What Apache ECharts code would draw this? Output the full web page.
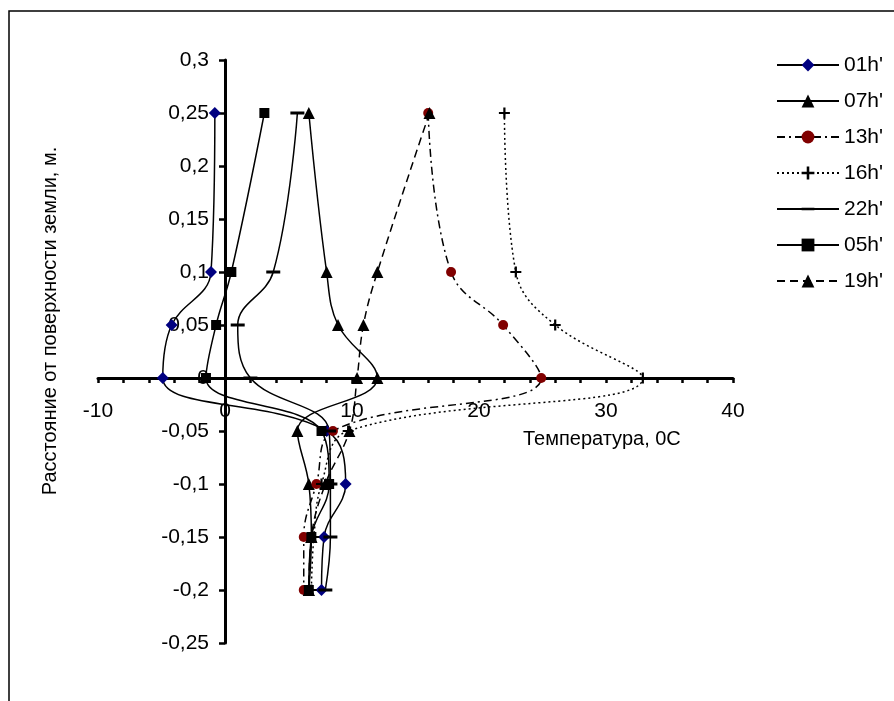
<!DOCTYPE html>
<html>
<head>
<meta charset="utf-8">
<script src="https://cdn.jsdelivr.net/npm/echarts@6/dist/echarts.min.js"></script>
<style>
    html, body { margin: 0; padding: 0; background: #fff; }
    #main { width: 894px; height: 701px; }
</style>
</head>
<body>
<div id="main"></div>
<script>
    // глубина, м
    var depths = [0.25, 0.1, 0.05, 0, -0.05, -0.1, -0.15, -0.2];
    // температура по часам
    var t01 = [-0.8, -1.1, -4.2, -4.9, 8.0, 9.5, 7.8, 7.6];
    var t07 = [6.6, 8.0, 8.9, 12.0, 5.7, 6.6, 6.8, 6.6];
    var t13 = [16.0, 17.8, 21.9, 24.9, 8.5, 7.2, 6.2, 6.2];
    var t16 = [22.0, 22.9, 26.0, 32.9, 9.7, 7.6, 7.0, 6.8];
    var t22 = [5.7, 3.8, 1.0, 2.0, 8.2, 8.3, 8.3, 7.9];
    var t05 = [3.1, 0.5, -0.7, -1.5, 7.6, 8.2, 6.8, 6.6];
    var t19 = [16.1, 12.0, 10.9, 10.4, 9.8, 7.9, 6.8, 6.6];
    var names = ["01h'", "07h'", "13h'", "16h'", "22h'", "05h'", "19h'"];

    var font = 'Liberation Sans, Arial, sans-serif';
    var plus = 'path://M4,0h2v4h4v2h-4v4h-2v-4h-4v-2h4z';
    // черточка в квадратной рамке (крошечные углы держат пропорции)
    var dash = 'path://M0,0L0.01,0L0,0.01Z M14,14L13.99,14L14,13.99Z M0,5.5h14v3h-14z';

    function pairs(temps) {
        var out = [];
        for (var i = 0; i < temps.length; i++) {
            out.push([temps[i], depths[i]]);
        }
        return out;
    }

    function line(name, temps, symbol, size, color, type) {
        return {
            name: name,
            type: 'line',
            smooth: 0.4,
            data: pairs(temps),
            symbol: symbol,
            symbolSize: size,
            showAllSymbol: true,
            itemStyle: { color: color, borderWidth: 0 },
            lineStyle: { color: '#000', width: 1.5, type: type },
            emphasis: { disabled: true },
            z: 3
        };
    }

    var myChart = echarts.init(document.getElementById('main'));
    var options = {
        animation: false,
        backgroundColor: '#fff',
        // сетка: -10..40 по x (98..733), 0.3..-0.25 по y (60..643)
        grid: { left: 98, right: 161, top: 60, bottom: 58 },
        legend: {
            orient: 'vertical',
            left: 771,
            top: 49,
            itemWidth: 62,
            itemHeight: 16,
            itemGap: 14,
            data: names,
            textStyle: { fontFamily: font, fontSize: 21, color: '#000', lineHeight: 22 }
        },
        xAxis: {
            type: 'value',
            min: -10,
            max: 40,
            interval: 2,
            // ось проходит через y = 0
            offset: -265,
            axisLine: { onZero: false, lineStyle: { color: '#000', width: 3 } },
            axisTick: { length: 5, lineStyle: { color: '#000', width: 2.5 } },
            splitLine: { show: false },
            axisLabel: {
                margin: 23,
                fontFamily: font,
                fontSize: 21,
                color: '#000',
                formatter: function (v) {
                    return v % 10 === 0 ? String(v) : '';
                }
            }
        },
        yAxis: {
            type: 'value',
            min: -0.25,
            max: 0.3,
            interval: 0.05,
            // ось проходит через x = 0
            offset: -127,
            axisLine: { onZero: false, lineStyle: { color: '#000', width: 3 } },
            axisTick: { length: 6, lineStyle: { color: '#000', width: 2.5 } },
            splitLine: { show: false },
            axisLabel: {
                margin: 16,
                fontFamily: font,
                fontSize: 21,
                color: '#000',
                formatter: function (v) {
                    return String(Math.round(v * 100) / 100).replace('.', ',');
                }
            }
        },
        graphic: [
            {
                type: 'rect',
                shape: { x: 9, y: 11, width: 900, height: 720 },
                style: { fill: 'none', stroke: '#000', lineWidth: 1.5 },
                silent: true
            },
            {
                type: 'text',
                left: 523,
                top: 429,
                style: { text: 'Температура, 0С', font: '20px ' + font, fill: '#000' }
            },
            {
                type: 'text',
                x: 50,
                y: 321,
                rotation: Math.PI / 2,
                style: {
                    text: 'Расстояние от поверхности земли, м.',
                    font: '20px ' + font,
                    fill: '#000',
                    align: 'center',
                    verticalAlign: 'middle'
                }
            }
        ],
        series: [
            line(names[0], t01, 'diamond', 12, '#000080', 'solid'),
            line(names[1], t07, 'triangle', 12, '#000', 'solid'),
            line(names[2], t13, 'circle', 10, '#800000', [8, 4, 2, 4]),
            line(names[3], t16, plus, 11, '#000', [2, 3]),
            line(names[4], t22, dash, 14, '#000', 'solid'),
            line(names[5], t05, 'rect', 10, '#000', 'solid'),
            line(names[6], t19, 'triangle', 12, '#000', [8, 5])
        ]
    };
    myChart.setOption(options, true);
</script>
</body>
</html>
